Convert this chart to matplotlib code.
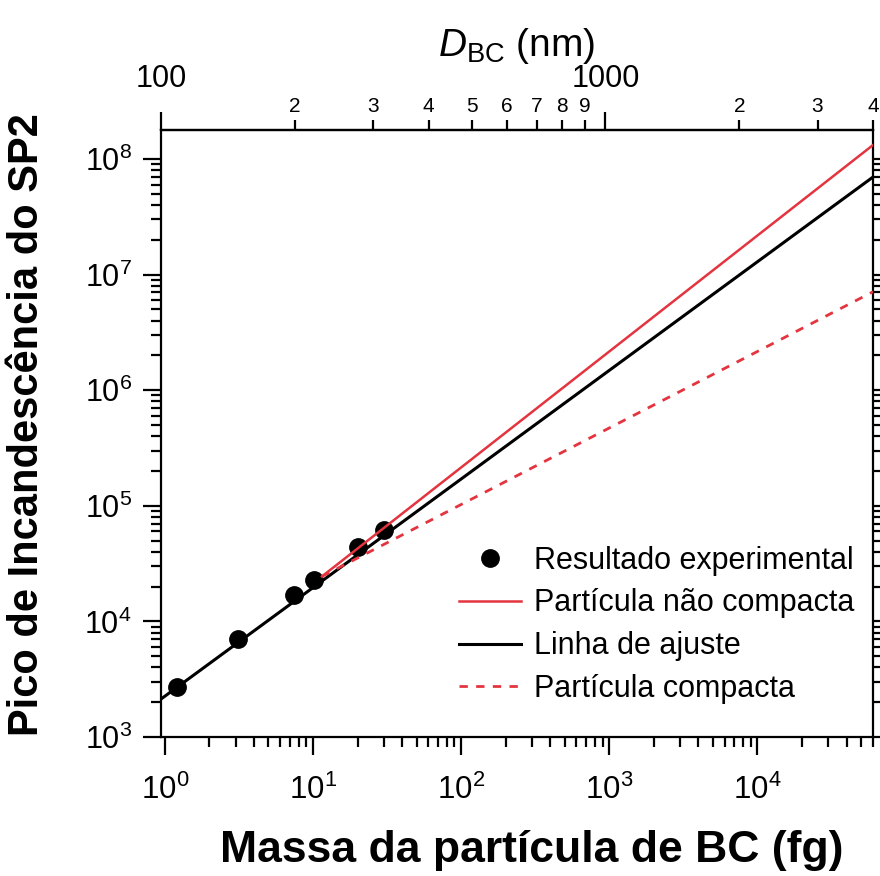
import numpy as np
import matplotlib
matplotlib.use("Agg")
import matplotlib.pyplot as plt
from matplotlib.lines import Line2D
from matplotlib.ticker import FixedLocator

plt.rcParams['font.family'] = ['Liberation Sans', 'DejaVu Sans']
plt.rcParams['mathtext.fontset'] = 'custom'
plt.rcParams['mathtext.rm'] = 'Liberation Sans'
plt.rcParams['mathtext.it'] = 'Liberation Sans:italic'
plt.rcParams['mathtext.bf'] = 'Liberation Sans:bold'

# mass (fg) = RHO * pi/6 * D^3, D in nm
RHO = 1.8  # g/cm3
D_LIMITS = [100, 4000]

# experimental points
mass_exp = [1.20, 3.14, 7.45, 10.2, 20.1, 30.1]
peak_exp = [2720, 7000, 16900, 22800, 43800, 61800]

# straight lines on log-log axes, given by their end points
fit_x = [0.9425, 60318]
fit_y = [2130, 6.98e7]
noncompact_x = [11.5, 60318]
noncompact_y = [24500, 1.32e8]
compact_x = [11.5, 60318]
compact_y = [24500, 7.1e6]

x_major = [1, 10, 100, 1000, 10000]
y_limits = [1e3, 1.78e8]
top_major = [100, 1000]
top_major_labels = ['100', '1000']
top_minor = [200, 300, 400, 500, 600, 700, 800, 900, 2000, 3000, 4000]
top_minor_labels = ['2', '3', '4', '5', '6', '7', '8', '9', '2', '3', '4']

RED = '#E4343F'


def d2m(d):
    return RHO * np.pi / 6 * 1e-6 * np.asarray(d, dtype=float) ** 3


def m2d(m):
    return (np.asarray(m, dtype=float) / (RHO * np.pi / 6 * 1e-6)) ** (1 / 3)


fig = plt.figure(figsize=(8.8, 8.76), dpi=100, facecolor='white')
ax = fig.add_axes([0.183, 0.1587, 0.8091, 0.6929])
ax.set_xscale('log')
ax.set_yscale('log')

ax.plot(mass_exp, peak_exp, 'o', color='black', markersize=12.5, zorder=3)
ax.plot(fit_x, fit_y, '-', color='black', linewidth=2.2, zorder=4)
ax.plot(noncompact_x, noncompact_y, '-', color=RED, linewidth=1.8, zorder=5)
ax.plot(compact_x, compact_y, color=RED, linewidth=2.0, linestyle=(0, (3, 3)), zorder=5)

ax.set_xlim(d2m(D_LIMITS[0]), d2m(D_LIMITS[1]))
ax.set_ylim(*y_limits)
ax.xaxis.set_major_locator(FixedLocator(x_major))

for sp in ax.spines.values():
    sp.set_linewidth(1.6)

ax.tick_params(axis='x', which='both', direction='out', top=False, width=1.6,
               labelsize=22.5, pad=14)
ax.tick_params(axis='x', which='major', length=13)
ax.tick_params(axis='x', which='minor', length=7)
ax.tick_params(axis='y', which='both', direction='out', left=True, right=True,
               width=1.6, labelsize=22, pad=8)
ax.tick_params(axis='y', which='major', length=13)
ax.tick_params(axis='y', which='minor', length=7)

ax.set_xlabel('Massa da partícula de BC (fg)', fontsize=32, fontweight='bold')
ax.xaxis.set_label_coords(0.52, -0.153)
ax.set_ylabel('Pico de Incandescência do SP2', fontsize=30, fontweight='bold')
ax.yaxis.set_label_coords(-0.16, 0.515)

# top axis: particle diameter
sec = ax.secondary_xaxis('top', functions=(m2d, d2m))
sec.set_xticks(top_major)
sec.set_xticklabels(top_major_labels)
sec.set_xticks(top_minor, labels=top_minor_labels, minor=True)
sec.tick_params(axis='x', which='both', direction='out', width=1.6)
sec.tick_params(axis='x', which='major', length=13, labelsize=22, pad=13)
sec.tick_params(axis='x', which='minor', length=7, labelsize=15, pad=3)
sec.spines['top'].set_linewidth(1.6)
sec.set_xlabel(r'$\mathit{D}_{\mathrm{BC}}$ (nm)', fontsize=28, labelpad=6)

handles = [
    Line2D([], [], marker='o', linestyle='none', color='black', markersize=12.5),
    Line2D([], [], color=RED, linewidth=1.8),
    Line2D([], [], color='black', linewidth=2.2),
    Line2D([], [], color=RED, linewidth=2.0, linestyle=(0, (3, 3))),
]
labels = ['Resultado experimental', 'Partícula não compacta',
          'Linha de ajuste', 'Partícula compacta']
ax.legend(handles, labels, loc='lower right', bbox_to_anchor=(1.0, 0.024),
          frameon=False, fontsize=22, handlelength=2.0, handletextpad=0.45,
          labelspacing=0.42, borderaxespad=0.2)

fig.savefig('out.png', dpi=100, facecolor='white')
